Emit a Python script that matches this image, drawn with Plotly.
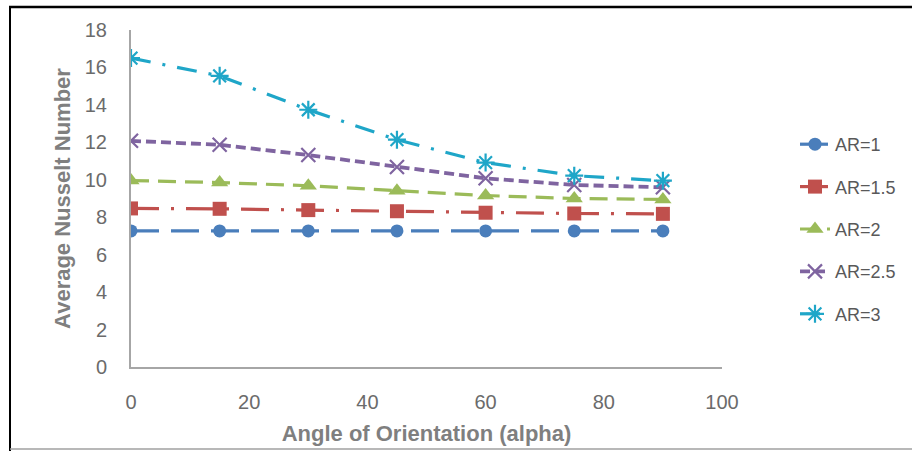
import plotly.graph_objects as go

angles = [0, 15, 30, 45, 60, 75, 90]
series_names = ["AR=1", "AR=1.5", "AR=2", "AR=2.5", "AR=3"]
nu_ar1 = [7.27, 7.27, 7.27, 7.27, 7.27, 7.27, 7.27]
nu_ar15 = [8.47, 8.45, 8.38, 8.32, 8.24, 8.20, 8.18]
nu_ar2 = [9.96, 9.85, 9.68, 9.42, 9.16, 9.00, 8.95]
nu_ar25 = [12.08, 11.87, 11.32, 10.68, 10.08, 9.72, 9.60]
nu_ar3 = [16.50, 15.55, 13.74, 12.14, 10.92, 10.22, 9.95]
x_ticks = [0, 20, 40, 60, 80, 100]
y_ticks = [0, 2, 4, 6, 8, 10, 12, 14, 16, 18]

values = [nu_ar1, nu_ar15, nu_ar2, nu_ar25, nu_ar3]
colors = ["#4A7EBB", "#C0504D", "#9BBB59", "#7F64A0", "#1FA6C8"]
dashes = ["28px,12px", "28px,12px,3px,12px", "18px,9px", "10px,5px", "20px,12px,3px,12px"]
symbols = ["circle", "square", "triangle-up", "x-thin-open", "asterisk-open"]
msizes = [13, 14, 15, 14, 15]
lwidths = [3.2, 3.2, 3.2, 3.8, 3.2]

fig = go.Figure()
for name, vals, c, d, s, ms, lw in zip(series_names, values, colors, dashes, symbols, msizes, lwidths):
    fig.add_trace(go.Scatter(
        x=angles, y=vals, name=name, mode="lines+markers", legendgroup=name,
        line=dict(color=c, width=lw, dash=d),
        marker=dict(symbol=s, size=ms, color=c, line=dict(color=c, width=2.2 if "open" in s else 0)),
    ))

L, R, T, B = 131, 190, 30, 84
W, H = 912, 451
pw, ph = W - L - R, H - T - B

def px(xp):
    return (xp - L) / pw

def py(yp):
    return (H - B - yp) / ph

tick_font = dict(family="Liberation Sans, Arial, sans-serif", size=20, color="#6B6B6B")
title_font = dict(family="Liberation Sans, Arial, sans-serif", size=22, color="#7F7F7F")

fig.update_layout(
    width=W, height=H,
    margin=dict(l=L, r=R, t=T, b=B, autoexpand=False),
    paper_bgcolor="white", plot_bgcolor="white",
    xaxis=dict(range=[0, 100], tickvals=x_ticks, showgrid=False, zeroline=False,
               showline=True, linecolor="#A6A6A6", linewidth=2, ticks="",
               ticklabelstandoff=16, tickfont=tick_font,
               title=dict(text="<b>Angle of Orientation (alpha)</b>", font=title_font, standoff=14)),
    yaxis=dict(range=[0, 18], tickvals=y_ticks, showgrid=False, zeroline=False,
               showline=True, linecolor="#A6A6A6", linewidth=2, ticks="",
               ticklabelstandoff=18, tickfont=tick_font,
               title=dict(text="<b>Average Nusselt Number</b>", font=title_font, standoff=8)),
    legend=dict(x=px(795), y=py(126), xanchor="left", yanchor="top",
                font=dict(family="Liberation Sans, Arial, sans-serif", size=18, color="#595959"),
                tracegroupgap=16, bgcolor="rgba(0,0,0,0)"),
    shapes=[
        dict(type="line", xref="paper", yref="paper", x0=px(10), x1=px(10), y0=py(7), y1=py(451),
             line=dict(color="black", width=2)),
        dict(type="line", xref="paper", yref="paper", x0=px(9), x1=px(912), y0=py(7), y1=py(7),
             line=dict(color="black", width=2.5)),
        dict(type="line", xref="paper", yref="paper", x0=px(10), x1=px(912), y0=py(449), y1=py(449),
             line=dict(color="#A0A0A0", width=1.5)),
    ],
)

fig.write_html("out.html")
